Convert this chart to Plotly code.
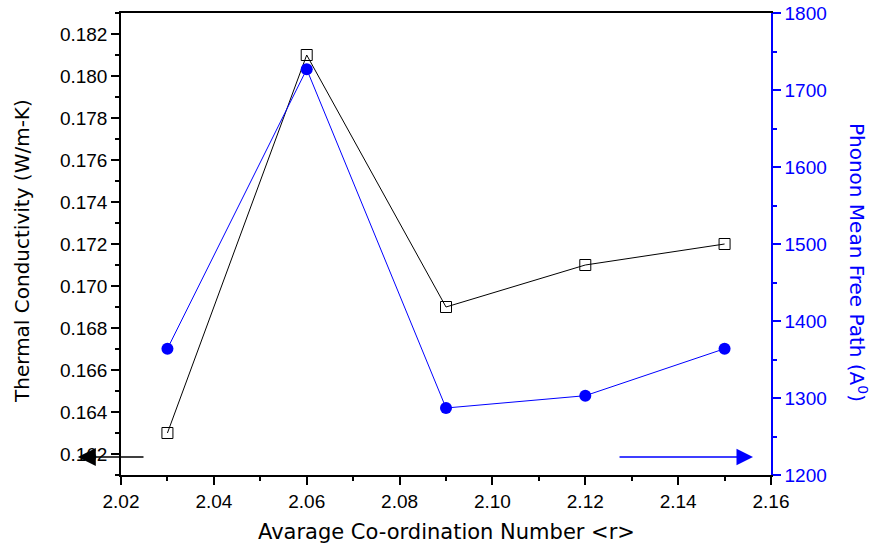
import plotly.graph_objects as go

coord_number = [2.03, 2.06, 2.09, 2.12, 2.15]
thermal_cond = [0.163, 0.181, 0.169, 0.171, 0.172]
mean_free_path = [1364, 1727, 1287, 1303, 1364]

FONT = "Liberation Sans, Arial, sans-serif"
TFONT = "DejaVu Sans, Liberation Sans, sans-serif"
BLUE = "#0000ff"

fig = go.Figure()
fig.add_trace(go.Scatter(
    x=coord_number, y=thermal_cond, mode="lines+markers",
    line=dict(color="black", width=1),
    marker=dict(symbol="square-open", size=11, color="black", line=dict(width=1)),
    showlegend=False, cliponaxis=False))
fig.add_trace(go.Scatter(
    x=coord_number, y=mean_free_path, mode="lines+markers", yaxis="y2",
    line=dict(color=BLUE, width=1),
    marker=dict(symbol="circle", size=12, color=BLUE),
    showlegend=False, cliponaxis=False))

fig.update_layout(
    width=875, height=550,
    margin=dict(l=121, r=104, t=13, b=75),
    plot_bgcolor="white", paper_bgcolor="white",
    font=dict(family=FONT, size=19, color="black"),
    xaxis=dict(range=[2.02, 2.16], dtick=0.02, tickformat=".2f", automargin=False,
               showline=True, linecolor="black", linewidth=1.5, mirror=True,
               ticks="outside", ticklen=8, tickwidth=1.5, tickcolor="black",
               minor=dict(dtick=0.01, ticks="outside", ticklen=4, tickwidth=1.5, tickcolor="black"),
               showgrid=False, zeroline=False),
    yaxis=dict(range=[0.161, 0.183], dtick=0.002, tick0=0.162, tickformat=".3f", automargin=False,
               showline=True, linecolor="black", linewidth=1.5,
               ticks="outside", ticklen=8, tickwidth=1.5, tickcolor="black",
               minor=dict(dtick=0.001, ticks="outside", ticklen=4, tickwidth=1.5, tickcolor="black"),
               showgrid=False, zeroline=False),
    yaxis2=dict(range=[1200, 1800], dtick=100, overlaying="y", side="right", automargin=False,
                showline=True, linecolor=BLUE, linewidth=1.5,
                ticks="outside", ticklen=8, tickwidth=1.5, tickcolor=BLUE,
                minor=dict(dtick=50, ticks="outside", ticklen=4, tickwidth=1.5, tickcolor=BLUE),
                tickfont=dict(color=BLUE), showgrid=False, zeroline=False),
)

# axis titles
fig.add_annotation(xref="paper", yref="paper", x=0.5, y=-0.1234,
                   xanchor="center", yanchor="middle",
                   text="Avarage Co-ordination Number &lt;r&gt;",
                   showarrow=False, font=dict(family=TFONT, size=21, color="black"))
fig.add_annotation(xref="paper", yref="paper", x=-0.1523, y=0.485,
                   xanchor="center", yanchor="middle",
                   text="Thermal Conductivity (W/m-K)", textangle=-90,
                   showarrow=False, font=dict(family=TFONT, size=20, color="black"))
fig.add_annotation(xref="paper", yref="paper", x=1.134, y=0.461,
                   xanchor="center", yanchor="middle",
                   text="Phonon Mean Free Path (A<sup>0</sup>)", textangle=90,
                   showarrow=False, font=dict(family=TFONT, size=20, color=BLUE))

# direction arrows
fig.add_annotation(xref="x", yref="y", x=2.0107, y=0.161857, ax=2.02517, ay=0.161857,
                   axref="x", ayref="y", text="", showarrow=True,
                   arrowhead=2, arrowsize=2.4, arrowwidth=1.5, arrowcolor="black")
fig.add_annotation(xref="x", yref="y", x=2.15612, y=0.161857, ax=2.12705, ay=0.161857,
                   axref="x", ayref="y", text="", showarrow=True,
                   arrowhead=2, arrowsize=2.2, arrowwidth=1.5, arrowcolor=BLUE)

fig.write_html("out.html", config={"displayModeBar": False},
               post_script="document.body.style.margin='0px';")
